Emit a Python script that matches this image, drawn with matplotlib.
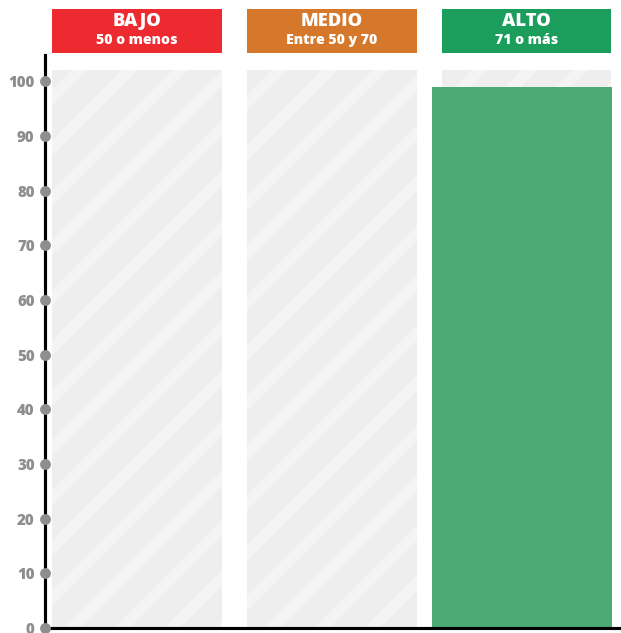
import matplotlib
matplotlib.use("Agg")
import matplotlib.pyplot as plt
from matplotlib.patches import Rectangle
import numpy as np

# ---- data ----
categories = ["BAJO", "MEDIO", "ALTO"]
subtitles = ["50 o menos", "Entre 50 y 70", "71 o más"]
values = [0, 0, 99]
background_max = [102, 102, 102]
yticks = list(range(0, 101, 10))

header_colors = ["#ec2a2f", "#d5782c", "#1b9d5c"]
bar_color = "#4caa75"

plt.rcParams['font.family'] = ['Open Sans', 'DejaVu Sans']
plt.rcParams['hatch.linewidth'] = 5.0
plt.rcParams['hatch.color'] = '#f4f4f4'

DPI = 150
fig = plt.figure(figsize=(621 / DPI, 633 / DPI), dpi=DPI)
fig.patch.set_facecolor('white')
ax = fig.add_axes([45 / 621, 5 / 633, 576 / 621, 573 / 633])

x = np.arange(len(categories))
ax.bar(x, background_max, width=0.872, color='#eeeeee', edgecolor='#f4f4f4',
       hatch='/', linewidth=0, zorder=1)
ax.bar(x - 0.485, values, width=0.923, align='edge', color=bar_color,
       linewidth=0, zorder=2)

ax.set_xlim(-0.472, 2.485)
ax.set_ylim(0, 104.8)

# headers
for xi, cat, sub, col in zip(x, categories, subtitles, header_colors):
    ax.add_patch(Rectangle((xi - 0.436, 105.2), 0.872, 8.0, facecolor=col,
                           edgecolor='none', clip_on=False, zorder=3))
    ax.text(xi, 111.0, cat, ha='center', va='center', color='white',
            fontsize=8.8, fontweight=800, clip_on=False, zorder=4)
    ax.text(xi, 107.6, sub, ha='center', va='center', color='white',
            fontsize=6.8, fontweight=800, clip_on=False, zorder=4)

# axes styling
for s in ['top', 'right']:
    ax.spines[s].set_visible(False)
for s in ['left', 'bottom']:
    ax.spines[s].set_color('black')
    ax.spines[s].set_linewidth(1.5)
    ax.spines[s].set_zorder(5)
ax.set_xticks([])
ax.set_yticks(yticks)
ax.set_yticklabels([str(t) for t in yticks], color='#8e8e8e',
                   fontweight=800, fontsize=7.2)
ax.tick_params(axis='y', length=0, pad=5)
ax.plot([0] * len(yticks), yticks, 'o', color='#8e8e8e', markersize=4.2,
        transform=ax.get_yaxis_transform(), clip_on=False, zorder=6)

fig.savefig("out.png", dpi=DPI, facecolor='white')
